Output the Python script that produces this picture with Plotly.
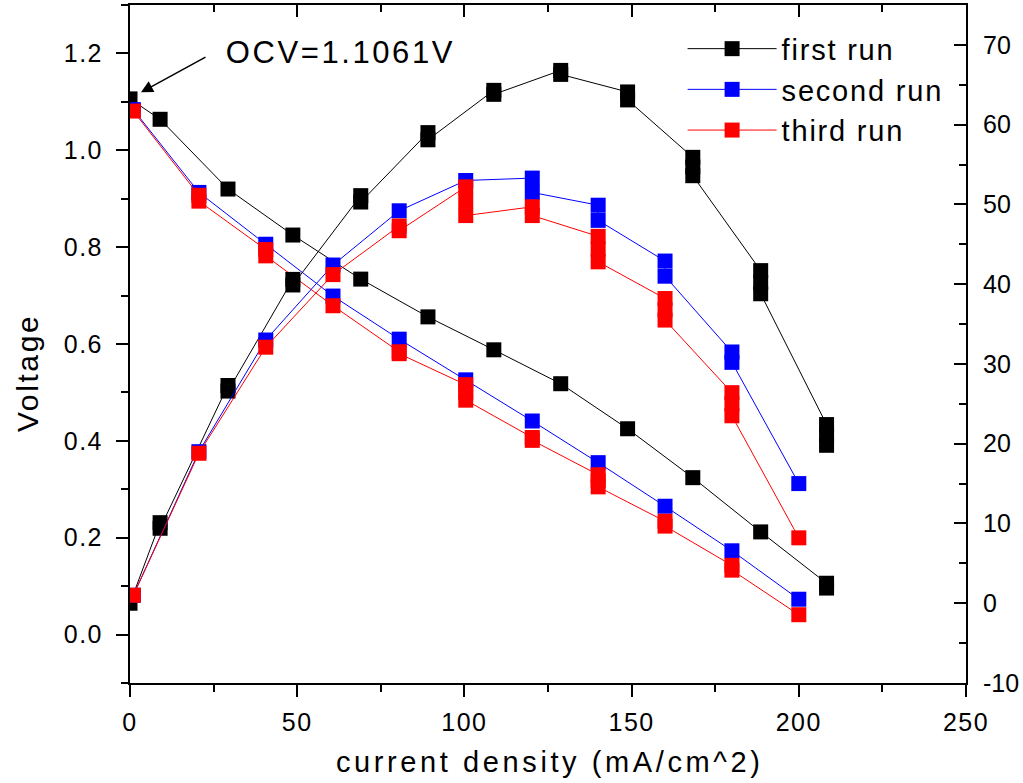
import plotly.graph_objects as go

# ---------------- data ----------------
# Each entry lists the readings drawn at that current density (overlapping squares).
first_current = [0.0, 9.0, 29.3, 48.7, 69.0, 89.1, 108.8, 128.8, 148.8, 168.3, 188.6, 208.3]
first_voltage = [[1.1061], [1.064], [0.920], [0.825], [0.734], [0.656], [0.588], [0.518],
                 [0.425], [0.324], [0.212], [0.106, 0.096]]
first_power = [[0.0], [10.1, 9.4], [27.3, 26.6], [40.6, 39.9], [51.1, 50.3], [59.0, 58.1],
               [64.3, 63.8], [66.8, 66.3], [64.1, 63.1], [55.9, 54.7, 53.6],
               [41.7, 40.2, 38.8], [22.4, 21.1, 19.8]]

second_current = [1.0, 20.6, 40.6, 60.7, 80.5, 100.4, 120.3, 140.0, 160.0, 180.0, 200.0]
second_voltage = [[1.084], [0.913], [0.806], [0.699], [0.610], [0.526], [0.441], [0.355],
                  [0.265], [0.173], [0.073]]
second_power = [[1.0], [19.0], [33.0], [42.4], [49.2], [53.0], [53.3, 51.5], [49.9, 48.0],
                [42.9, 41.0], [31.5, 30.2], [15.0]]

third_current = [1.0, 20.6, 40.6, 60.7, 80.5, 100.4, 120.3, 140.0, 160.0, 180.0, 200.0]
third_voltage = [[1.081], [0.907, 0.895], [0.795, 0.782], [0.679], [0.584, 0.580],
                 [0.516, 0.500, 0.484], [0.407, 0.401], [0.330, 0.318, 0.305],
                 [0.234, 0.224], [0.143, 0.133], [0.041]]
third_power = [[1.0], [18.8], [32.1], [41.2], [47.3, 46.7], [52.2, 50.4, 48.6], [49.7, 48.6],
               [46.0, 44.4, 42.8], [38.2, 36.8, 35.5], [26.4, 25.0, 23.5], [8.2]]

series_names = ["first run", "second run", "third run"]
series_colors = ["#000000", "#0000FF", "#FF0000"]

x_ticks = [0, 50, 100, 150, 200, 250]
v_ticks = [0.0, 0.2, 0.4, 0.6, 0.8, 1.0, 1.2]
p_ticks = [-10, 0, 10, 20, 30, 40, 50, 60, 70]
p_tick_labels = ["-10", "0", "10", "20", "30", "40", "50", "60", "70"]

ocv_text = "OCV=1.1061V"
x_title = "current density (mA/cm^2)"
y_title = "Voltage"


def flatten(currents, readings):
    xx, yy = [], []
    for x, rs in zip(currents, readings):
        for r in rs:
            xx.append(x)
            yy.append(r)
    return xx, yy


FONT = "Liberation Sans, Arial, sans-serif"
MS = 15

fig = go.Figure()

volt_sets = [(first_current, first_voltage), (second_current, second_voltage),
             (third_current, third_voltage)]
power_sets = [(first_current, first_power), (second_current, second_power),
              (third_current, third_power)]

for (cur, rd), name, col in zip(volt_sets, series_names, series_colors):
    xx, yy = flatten(cur, rd)
    fig.add_trace(go.Scatter(
        x=xx, y=yy, mode="lines+markers", name=name,
        line=dict(color=col, width=1),
        marker=dict(symbol="square", size=MS, color=col, line=dict(width=0)),
        xaxis="x", yaxis="y", showlegend=True,
    ))

for (cur, rd), name, col in zip(power_sets, series_names, series_colors):
    xx, yy = flatten(cur, rd)
    fig.add_trace(go.Scatter(
        x=xx, y=yy, mode="lines+markers", name=name,
        line=dict(color=col, width=1),
        marker=dict(symbol="square", size=MS, color=col, line=dict(width=0)),
        xaxis="x2", yaxis="y2", showlegend=False,
    ))

tickfont = dict(family=FONT, size=25, color="black")

axis_common = dict(
    showgrid=False, zeroline=False, showline=True, linecolor="black",
    linewidth=2, tickcolor="black", tickwidth=2, tickfont=tickfont,
    automargin=False,
)

fig.update_layout(
    width=1023, height=783,
    margin=dict(l=130, r=57, t=5, b=100),
    paper_bgcolor="white", plot_bgcolor="white",
    font=dict(family=FONT, color="black"),
    xaxis=dict(
        range=[0, 250], tickvals=x_ticks, ticks="outside", ticklen=12,
        minor=dict(dtick=25, ticks="outside", ticklen=7, tickwidth=2, tickcolor="black"),
        ticklabelstandoff=4,
        **axis_common,
    ),
    xaxis2=dict(
        range=[0, 250], overlaying="x", side="top", anchor="y",
        tickvals=x_ticks, ticks="inside", ticklen=12, showticklabels=False,
        minor=dict(dtick=25, ticks="inside", ticklen=7, tickwidth=2, tickcolor="black"),
        **axis_common,
    ),
    yaxis=dict(
        range=[-0.1, 1.3], tickvals=v_ticks, tickformat=".1f",
        ticks="outside", ticklen=12,
        minor=dict(dtick=0.1, ticks="outside", ticklen=7, tickwidth=2, tickcolor="black"),
        ticklabelstandoff=8,
        **axis_common,
    ),
    yaxis2=dict(
        range=[-10, 75], overlaying="y", side="right", anchor="x",
        tickvals=p_ticks, ticktext=p_tick_labels, ticks="inside", ticklen=12,
        minor=dict(dtick=5, ticks="inside", ticklen=7, tickwidth=2, tickcolor="black"),
        ticklabelstandoff=10,
        **axis_common,
    ),
    legend=dict(
        x=0.661, y=0.973, xanchor="left", yanchor="top",
        bgcolor="rgba(0,0,0,0)", borderwidth=0,
        font=dict(family=FONT, size=29, color="black"),
        itemwidth=89, tracegroupgap=0,
    ),
    showlegend=True,
)

# axis titles as annotations for exact placement
fig.add_annotation(
    text=x_title, xref="paper", yref="paper",
    x=(550 - 130) / 836, y=(683 - 762) / 678,
    showarrow=False, font=dict(family=FONT, size=29, color="black"),
    xanchor="center", yanchor="middle",
)
fig.add_annotation(
    text=y_title, xref="paper", yref="paper",
    x=(27 - 130) / 836, y=(683 - 373) / 678,
    showarrow=False, textangle=-90, font=dict(family=FONT, size=30, color="black"),
    xanchor="center", yanchor="middle",
)

# OCV label and arrow
fig.add_annotation(
    text=ocv_text, xref="x", yref="y",
    x=(340 - 130) / 3.344, y=(634 - 51) / 485,
    showarrow=False, font=dict(family=FONT, size=31, color="black"),
    xanchor="center", yanchor="middle",
)
fig.add_annotation(
    text="", xref="x", yref="y",
    x=(141 - 130) / 3.344, y=(634 - 91) / 485,
    ax=66, ay=-36, showarrow=True,
    arrowhead=2, arrowsize=1.6, arrowwidth=1.5, arrowcolor="black",
)

post = """
document.body.style.margin = '0';
document.body.style.padding = '0';
var gd = document.getElementById('{plot_id}');
gd.querySelectorAll('.xtick text, .ytick text').forEach(function(t){ t.style.letterSpacing = '1.5px'; });
gd.querySelectorAll('.legendtext').forEach(function(t){ t.style.letterSpacing = '1.8px'; });
gd.querySelectorAll('.legend .scrollbox').forEach(function(e){ e.removeAttribute('clip-path'); });
var ann = gd.querySelectorAll('.annotation-text');
ann.forEach(function(t){ t.style.letterSpacing = '2.6px'; });
if (ann.length > 0) { ann[0].style.letterSpacing = '3.6px'; }
"""

fig.write_html("out.html", post_script=post, config={"displayModeBar": False})
